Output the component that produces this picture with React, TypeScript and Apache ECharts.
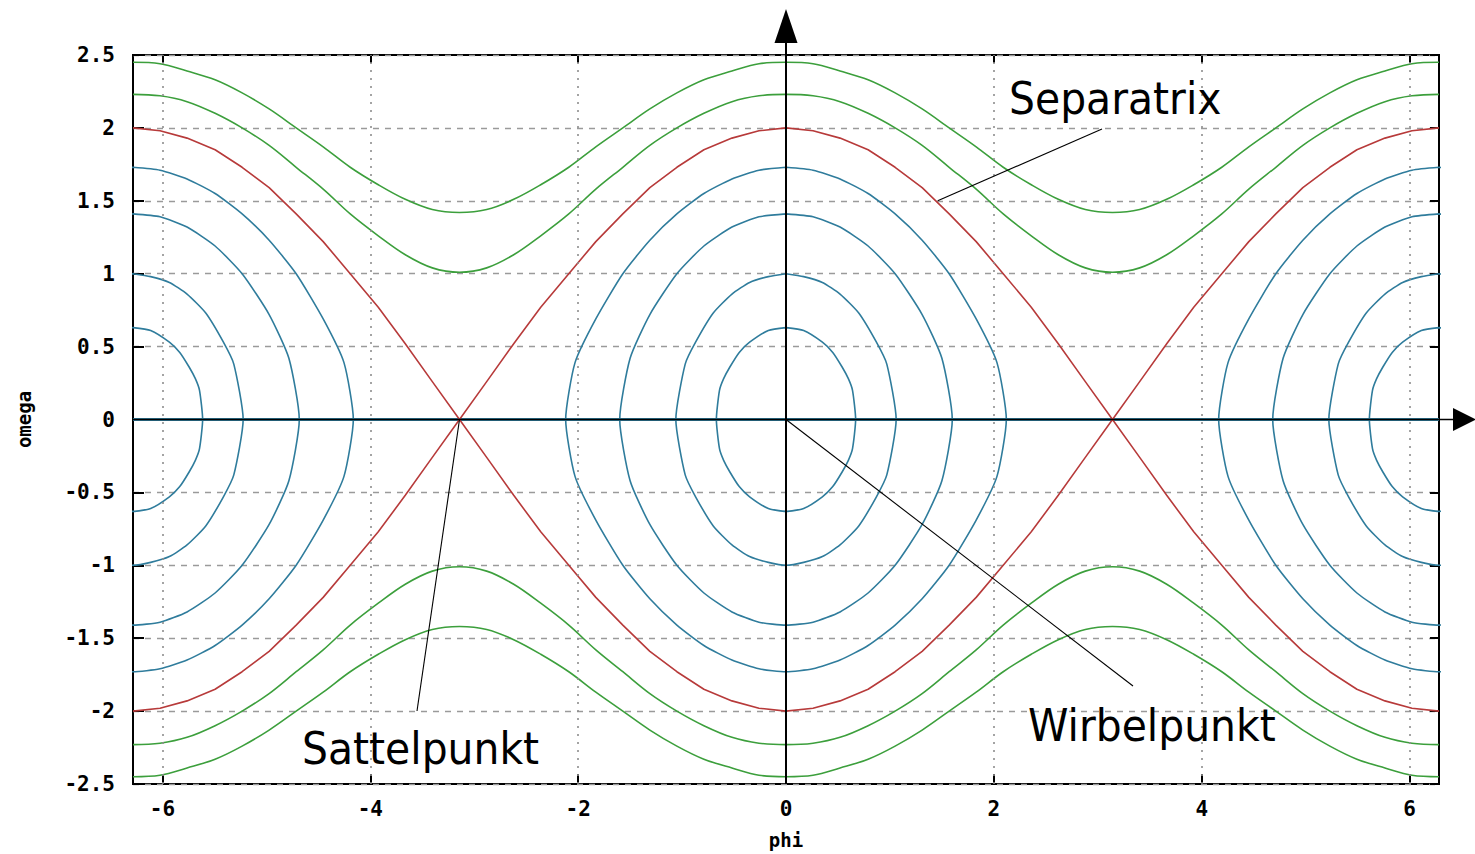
import React, { useEffect, useRef } from "react";
import * as echarts from "echarts";

// Axis layout values
const PHI_MIN = -6.2832;
const PHI_MAX = 6.2832;
const X_TICKS = [-6, -4, -2, 0, 2, 4, 6];
const Y_MIN = -2.5;
const Y_MAX = 2.5;
const Y_STEP = 0.5;

// Rotation curves and separatrix: upper branch over one half period 0 … π
const ROT_PHI = [0, 0.26, 0.52, 0.79, 1.05, 1.31, 1.57, 1.83, 2.09, 2.36, 2.62, 2.88, 3.1416];
const ROT_OUTER = [2.45, 2.44, 2.39, 2.33, 2.24, 2.13, 2.0, 1.87, 1.73, 1.61, 1.51, 1.44, 1.42];
const ROT_INNER = [2.23, 2.22, 2.18, 2.1, 2.0, 1.88, 1.73, 1.58, 1.41, 1.26, 1.13, 1.04, 1.01];
const SEPARATRIX = [2.0, 1.98, 1.93, 1.85, 1.73, 1.59, 1.41, 1.22, 1.0, 0.77, 0.52, 0.26, 0];

// Libration orbits: one quarter (phi >= 0, omega >= 0) of each closed curve
const LIB_1_PHI = [0, 0.17, 0.35, 0.45, 0.54, 0.6, 0.64, 0.67];
const LIB_1_OMEGA = [0.63, 0.61, 0.53, 0.46, 0.36, 0.28, 0.2, 0];
const LIB_2_PHI = [0, 0.17, 0.35, 0.52, 0.7, 0.87, 0.97, 1.06];
const LIB_2_OMEGA = [1.0, 0.98, 0.94, 0.86, 0.73, 0.53, 0.38, 0];
const LIB_3_PHI = [0, 0.26, 0.52, 0.79, 1.05, 1.31, 1.5, 1.6];
const LIB_3_OMEGA = [1.41, 1.39, 1.32, 1.19, 1.0, 0.72, 0.42, 0];
const LIB_4_PHI = [0, 0.26, 0.52, 0.79, 1.05, 1.31, 1.57, 1.83, 2.03, 2.12];
const LIB_4_OMEGA = [1.73, 1.71, 1.65, 1.55, 1.41, 1.23, 1.0, 0.69, 0.39, 0];

// Vortex centres of the libration orbits
const CENTRES = [-6.2832, 0, 6.2832];

// Equilibrium points used by the annotations
const SADDLE = [-3.1416, 0];
const VORTEX = [0, 0];
const SEPARATRIX_MARK = [1.46, 1.5];

const GREEN = "#3c9f3c";
const RED = "#b73a3a";
const BLUE = "#2f7c9c";

type Pt = [number, number];

// Extends a half-period branch across -2π … 2π using the curve's symmetry.
function periodicBranch(phis: number[], oms: number[], sign: number): Pt[] {
  const quarter: Pt[] = phis.map((p, i) => [p, oms[i]]);
  const half: Pt[] = [
    ...quarter,
    ...quarter
      .slice(0, -1)
      .reverse()
      .map(([p, w]) => [PHI_MAX - p, w] as Pt),
  ];
  const full: Pt[] = [
    ...half
      .slice(1)
      .reverse()
      .map(([p, w]) => [-p, w] as Pt),
    ...half,
  ];
  return full.map(([p, w]) => [p, sign * w] as Pt);
}

// Closes a libration quarter arc into a full loop around a centre.
function closedOrbit(phis: number[], oms: number[], c: number): Pt[] {
  const q: Pt[] = phis.map((p, i) => [p, oms[i]]);
  const ur = q.map(([p, w]) => [c + p, w] as Pt);
  const lr = q
    .slice()
    .reverse()
    .map(([p, w]) => [c + p, -w] as Pt);
  const ll = q.map(([p, w]) => [c - p, -w] as Pt);
  const ul = q
    .slice()
    .reverse()
    .map(([p, w]) => [c - p, w] as Pt);
  return [...ur, ...lr, ...ll, ...ul];
}

function curveSeries(data: Pt[], color: string, smooth: number | boolean = false, z = 3) {
  return {
    type: "line",
    data,
    xAxisIndex: 0,
    yAxisIndex: 0,
    showSymbol: false,
    symbol: "none",
    silent: true,
    clip: true,
    smooth,
    z,
    lineStyle: { color, width: 1.6 },
  };
}

export default function App() {
  const ref = useRef<HTMLDivElement>(null);

  useEffect(() => {
    if (!ref.current) return;
    const chart = echarts.init(ref.current, null, { renderer: "svg" });

    const series: any[] = [];

    // vertical dotted grid lines
    series.push({
      type: "line",
      data: [],
      xAxisIndex: 0,
      yAxisIndex: 0,
      silent: true,
      z: 1,
      markLine: {
        silent: true,
        symbol: ["none", "none"],
        label: { show: false },
        animation: false,
        lineStyle: { color: "#8e8e8e", type: [2, 6], width: 1.6 },
        data: X_TICKS.filter((v) => v !== 0).map((v) => ({ xAxis: v })),
      },
    });

    // omega = 0 line
    series.push({
      ...curveSeries([[PHI_MIN, 0], [PHI_MAX, 0]], BLUE, false, 2),
      lineStyle: { color: BLUE, width: 3 },
    });

    [ROT_OUTER, ROT_INNER].forEach((oms) => {
      series.push(curveSeries(periodicBranch(ROT_PHI, oms, 1), GREEN, 0.35));
      series.push(curveSeries(periodicBranch(ROT_PHI, oms, -1), GREEN, 0.35));
    });
    series.push(curveSeries(periodicBranch(ROT_PHI, SEPARATRIX, 1), RED));
    series.push(curveSeries(periodicBranch(ROT_PHI, SEPARATRIX, -1), RED));

    const orbits: [number[], number[]][] = [
      [LIB_1_PHI, LIB_1_OMEGA],
      [LIB_2_PHI, LIB_2_OMEGA],
      [LIB_3_PHI, LIB_3_OMEGA],
      [LIB_4_PHI, LIB_4_OMEGA],
    ];
    CENTRES.forEach((c) => {
      orbits.forEach(([p, w]) => series.push(curveSeries(closedOrbit(p, w, c), BLUE, 0.2)));
    });

    const tickFont = {
      fontFamily: "DejaVu Sans Mono",
      fontWeight: "bold",
      fontSize: 21,
      color: "#000",
    };

    const tickLine = { color: "#000", width: 2 };

    chart.setOption({
      animation: false,
      backgroundColor: "#ffffff",
      grid: {
        left: 133,
        right: 36,
        top: 55,
        bottom: 68,
        containLabel: false,
        show: true,
        borderColor: "#000",
        borderWidth: 2,
        backgroundColor: "transparent",
      },
      xAxis: [
        {
          type: "value",
          min: PHI_MIN,
          max: PHI_MAX,
          position: "bottom",
          name: "phi",
          nameLocation: "middle",
          nameGap: 46,
          nameTextStyle: { ...tickFont, fontSize: 19 },
          axisLine: { show: false, onZero: false },
          axisTick: { show: true, inside: true, length: 10, customValues: X_TICKS, lineStyle: tickLine },
          axisLabel: { ...tickFont, margin: 14, customValues: X_TICKS },
          splitLine: { show: false },
        },
        {
          type: "value",
          min: PHI_MIN,
          max: PHI_MAX,
          position: "top",
          axisLine: { show: false, onZero: false },
          axisTick: { show: true, inside: true, length: 8, customValues: X_TICKS, lineStyle: tickLine },
          axisLabel: { show: false },
          splitLine: { show: false },
        },
      ],
      yAxis: [
        {
          type: "value",
          min: Y_MIN,
          max: Y_MAX,
          interval: Y_STEP,
          position: "left",
          name: "omega",
          nameLocation: "middle",
          nameGap: 100,
          nameRotate: 90,
          nameTextStyle: { ...tickFont, fontSize: 19 },
          axisLine: { show: false, onZero: false },
          axisTick: { show: true, inside: true, length: 11, lineStyle: tickLine },
          axisLabel: { ...tickFont, margin: 18 },
          splitLine: { show: true, lineStyle: { color: "#9a9a9a", type: [6, 6], width: 1.3 } },
        },
        {
          type: "value",
          min: Y_MIN,
          max: Y_MAX,
          interval: Y_STEP,
          position: "right",
          axisLine: { show: false, onZero: false },
          axisTick: { show: true, inside: true, length: 9, lineStyle: tickLine },
          axisLabel: { show: false },
          splitLine: { show: false },
        },
      ],
      series,
    });

    const toPx = (v: number[]) => chart.convertToPixel({ seriesIndex: 1 }, v) as number[];
    const [ox, oy] = toPx(VORTEX);
    const saddle = toPx(SADDLE);
    const sepMark = toPx(SEPARATRIX_MARK);
    const [, bottomY] = toPx([0, Y_MIN]);
    const [leftX] = toPx([PHI_MIN, 0]);

    const labelFont = { fontFamily: "DejaVu Sans", fontSize: 44, fill: "#000" };
    const thin = { stroke: "#000", lineWidth: 1.1 };

    chart.setOption({
      graphic: [
        // coordinate axes with arrow heads
        { type: "line", z: 50, shape: { x1: ox, y1: bottomY, x2: ox, y2: 42 }, style: { stroke: "#000", lineWidth: 2 } },
        { type: "polygon", z: 50, shape: { points: [[ox, 9], [ox - 11.5, 43], [ox + 11.5, 43]] }, style: { fill: "#000" } },
        { type: "line", z: 50, shape: { x1: leftX, y1: oy, x2: 1454, y2: oy }, style: { stroke: "#000", lineWidth: 1.6 } },
        { type: "polygon", z: 50, shape: { points: [[1476, oy], [1453, oy - 11.5], [1453, oy + 11.5]] }, style: { fill: "#000" } },
        // annotations
        { type: "line", z: 50, shape: { x1: 1102, y1: 129, x2: sepMark[0], y2: sepMark[1] }, style: thin },
        { type: "line", z: 50, shape: { x1: saddle[0], y1: saddle[1], x2: 417, y2: 711 }, style: thin },
        { type: "line", z: 50, shape: { x1: ox, y1: oy, x2: 1133, y2: 686 }, style: thin },
        { type: "text", z: 50, x: 1009, y: 99, scaleX: 0.93, style: { ...labelFont, text: "Separatrix", textAlign: "left", textVerticalAlign: "middle" } },
        { type: "text", z: 50, x: 302, y: 749, scaleX: 0.93, style: { ...labelFont, text: "Sattelpunkt", textAlign: "left", textVerticalAlign: "middle" } },
        { type: "text", z: 50, x: 1028, y: 726, scaleX: 0.93, style: { ...labelFont, text: "Wirbelpunkt", textAlign: "left", textVerticalAlign: "middle" } },
      ],
    });

    return () => chart.dispose();
  }, []);

  return (
    <div
      ref={ref}
      style={{ position: "fixed", left: 0, top: 0, width: 1475, height: 854, background: "#fff" }}
    />
  );
}
